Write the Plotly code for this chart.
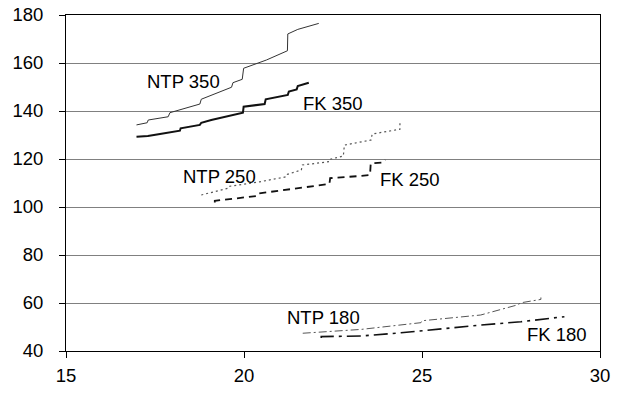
import plotly.graph_objects as go

# Series data (x, y) for each curve
ntp350_x = [16.98, 17.28, 17.31, 17.87, 17.92, 18.76, 18.80, 19.65, 19.69, 19.95, 19.99, 20.63, 21.22, 21.23, 21.51, 22.10]
ntp350_y = [134.2, 135.1, 136.25, 137.6, 139.3, 142.9, 144.9, 149.9, 151.8, 153.2, 157.8, 161.25, 165.1, 172.1, 174.0, 176.5]

fk350_x = [16.98, 17.30, 17.64, 18.20, 18.22, 18.76, 18.80, 19.08, 19.97, 19.99, 20.58, 20.61, 21.23, 21.26, 21.48, 21.51, 21.82]
fk350_y = [129.3, 129.6, 130.4, 131.8, 132.8, 134.2, 135.1, 136.25, 139.3, 141.8, 142.9, 144.9, 146.7, 148.1, 149.0, 150.4, 151.8]

ntp250_x = [18.80, 19.55, 19.58, 20.44, 21.19, 21.22, 21.61, 21.64, 22.40, 22.42, 22.79, 22.82, 23.57, 23.60, 24.38, 24.38]
ntp250_y = [105.0, 107.8, 108.6, 110.5, 112.6, 113.6, 115.4, 117.5, 118.9, 119.9, 121.25, 125.8, 127.9, 130.4, 132.4, 135.5]

fk250_x = [19.18, 19.18, 19.79, 20.35, 20.38, 21.19, 21.61, 21.98, 22.40, 22.42, 23.24, 23.54, 23.56, 23.90, 23.97]
fk250_y = [101.9, 102.6, 103.6, 104.6, 105.6, 107.1, 107.8, 108.75, 109.6, 112.0, 112.9, 113.3, 118.2, 118.5, 119.6]

ntp180_x = [21.65, 23.29, 24.97, 25.00, 26.65, 27.68, 27.78, 28.34, 28.34]
ntp180_y = [47.4, 49.0, 51.8, 52.6, 55.0, 59.2, 60.1, 61.5, 62.3]

fk180_x = [22.17, 22.17, 23.29, 24.41, 26.65, 27.78, 29.00]
fk180_y = [45.4, 46.0, 46.25, 47.6, 50.8, 52.2, 54.3]

# Curve labels
label_text = ["NTP 350", "FK 350", "NTP 250", "FK 250", "NTP 180", "FK 180"]
label_x = [18.31, 22.51, 19.31, 24.67, 22.24, 28.80]
label_y = [152.3, 143.3, 112.6, 111.5, 53.8, 46.9]

x_ticks = [15, 20, 25, 30]
y_ticks = [40, 60, 80, 100, 120, 140, 160, 180]

FONT = "Arial, 'Liberation Sans', sans-serif"

fig = go.Figure()

series = [
    (ntp350_x, ntp350_y, dict(color="#333333", width=1, dash="solid")),
    (fk350_x, fk350_y, dict(color="#111111", width=2, dash="solid")),
    (ntp250_x, ntp250_y, dict(color="#555555", width=1.2, dash="2px,3px")),
    (fk250_x, fk250_y, dict(color="#111111", width=1.8, dash="7px,5px")),
    (ntp180_x, ntp180_y, dict(color="#555555", width=1, dash="8px,3px,2px,3px")),
    (fk180_x, fk180_y, dict(color="#111111", width=1.6, dash="14px,5px,3px,5px")),
]
for xs, ys, ln in series:
    fig.add_trace(go.Scatter(x=xs, y=ys, mode="lines", line=ln, showlegend=False,
                             hoverinfo="skip"))

for t, x, y in zip(label_text, label_x, label_y):
    fig.add_annotation(x=x, y=y, text=t, showarrow=False,
                       font=dict(family=FONT, size=18.5, color="#000000"))

axis_common = dict(
    showline=True, linecolor="#000000", linewidth=1, mirror=True,
    ticks="outside", ticklen=6, tickcolor="#000000", tickwidth=1,
    tickfont=dict(family=FONT, size=18.5, color="#000000"),
    zeroline=False, automargin=False,
)

fig.update_xaxes(range=[15, 30], tickvals=x_ticks, showgrid=False,
                 ticklabelstandoff=2, **axis_common)
fig.update_yaxes(range=[40, 180], tickvals=y_ticks, showgrid=True,
                 gridcolor="#808080", gridwidth=1, ticklabelstandoff=12, **axis_common)

fig.update_layout(
    width=626, height=394,
    margin=dict(l=66, r=26, t=15, b=43),
    paper_bgcolor="#ffffff", plot_bgcolor="#ffffff",
    font=dict(family=FONT, size=18.5, color="#000000"),
)

fig.write_html("out.html")
